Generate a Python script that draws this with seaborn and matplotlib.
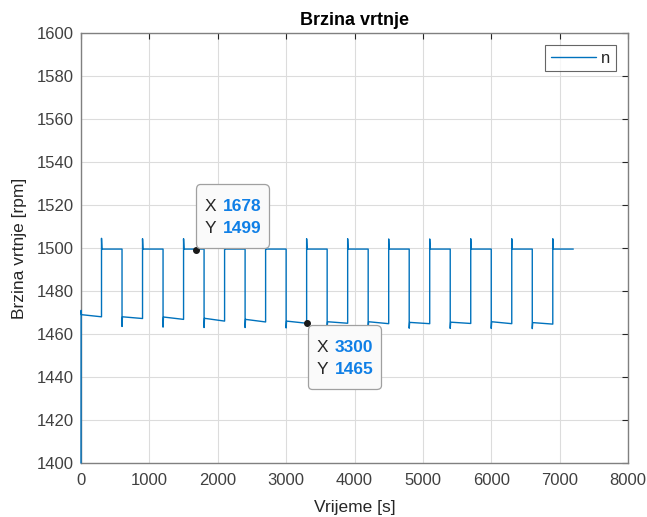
import numpy as np
import pandas as pd
import seaborn as sns
import matplotlib.pyplot as plt
from matplotlib.offsetbox import TextArea, HPacker, VPacker, AnnotationBbox, DrawingArea

# ---- data ----
start_t = [0, 2, 5]
start_n = [1400.0, 1471.0, 1469.0]
up_times = [300, 900, 1500, 2100, 2700, 3300, 3900, 4500, 5100, 5700, 6300, 6900]
down_times = [600, 1200, 1800, 2400, 3000, 3600, 4200, 4800, 5400, 6000, 6600]
low_start = [1469.0, 1468.0, 1467.9, 1467.3, 1466.8, 1466.0, 1465.7, 1465.7, 1465.4, 1465.5, 1465.7, 1465.3]
low_end = [1468.0, 1467.2, 1466.8, 1466.0, 1465.6, 1465.0, 1465.0, 1464.8, 1464.8, 1464.9, 1464.8, 1464.6]
up_peak = [1504.5, 1504.3, 1504.3, 1504.2, 1504.2, 1504.3, 1504.3, 1504.2, 1504.2, 1504.3, 1504.3, 1504.3]
down_dip = [1463.5, 1463.2, 1463.0, 1463.0, 1462.8, 1462.8, 1462.7, 1462.7, 1462.6, 1462.6, 1462.5]
high_level = 1499.5
end_time = 7200
tip1 = (1678, 1499)
tip2 = (3300, 1465)

# ---- build the polyline ----
t = list(start_t)
n = list(start_n)
for k, tu in enumerate(up_times):
    t += [tu, tu, tu + 6]
    n += [low_end[k], up_peak[k], high_level]
    if k < len(down_times):
        td = down_times[k]
        t += [td, td, td + 6]
        n += [high_level, down_dip[k], low_start[k + 1]]
t.append(end_time)
n.append(high_level)
df = pd.DataFrame({"t": t, "n": n})

sns.set_theme(style="whitegrid")
plt.rcParams['font.family'] = ['Liberation Sans', 'DejaVu Sans']

fig = plt.figure(figsize=(6.47, 5.17), dpi=100)
ax = fig.add_axes([81 / 647, 1 - 463 / 517, (628 - 81) / 647, (463 - 33) / 517])

sns.lineplot(data=df, x="t", y="n", ax=ax, color="#0072BD", linewidth=1.0,
             label="n", sort=False, estimator=None, zorder=3)
ax.lines[0].set_clip_on(False)

ax.set_xlim(0, 8000)
ax.set_ylim(1400, 1600)
ax.set_xticks(np.arange(0, 8001, 1000))
ax.set_yticks(np.arange(1400, 1601, 20))
ax.grid(True, color="#dcdcdc", linewidth=0.8)
ax.set_facecolor("white")
for s in ax.spines.values():
    s.set_color("#808080")
    s.set_linewidth(1.0)
    s.set_zorder(2.5)
ax.tick_params(axis="both", direction="in", length=4, width=0.8, color="#262626",
               labelsize=12, labelcolor="#404040", top=True, right=True, pad=5)
ax.tick_params(axis="x", pad=7)

ax.set_xlabel("Vrijeme [s]", fontsize=12.5, color="#262626", labelpad=9)
ax.set_ylabel("Brzina vrtnje [rpm]", fontsize=12.5, color="#262626", labelpad=7)
ax.set_title("Brzina vrtnje", fontsize=13, fontweight="bold", color="#000000", pad=6)

leg = ax.legend(loc="upper right", fontsize=12, frameon=True, fancybox=False,
                edgecolor="#404040", handlelength=2.7, borderaxespad=0.7,
                borderpad=0.35, handletextpad=0.3)
leg.get_frame().set_linewidth(0.8)

# ---- data tips ----
def datatip(xy, box_align, offset):
    ax.plot([xy[0]], [xy[1]], 'o', color="#1a1a1a", markersize=4, zorder=5)
    lab = dict(color="#262626", fontsize=12.5)
    num = dict(color="#0f7fe6", fontsize=12.5, fontweight="bold")
    r1 = HPacker(children=[TextArea("X", textprops=lab), TextArea(f"{xy[0]}", textprops=num)],
                 sep=5, pad=0, align="baseline")
    r2 = HPacker(children=[TextArea("Y", textprops=lab), TextArea(f"{xy[1]}", textprops=num)],
                 sep=5, pad=0, align="baseline")
    inner = VPacker(children=[r1, r2], sep=5, pad=0, align="left")
    col = VPacker(children=[DrawingArea(1, 5.8), inner, DrawingArea(1, 3.6)],
                  sep=0, pad=0, align="left")
    box = HPacker(children=[DrawingArea(1.5, 1), col], sep=0, pad=0, align="center")
    ab = AnnotationBbox(box, xy, xybox=offset, xycoords="data", boxcoords="offset points",
                        box_alignment=box_align, frameon=True, pad=0.5,
                        bboxprops=dict(boxstyle="round,pad=0.45,rounding_size=0.3",
                                       facecolor="#fafafa", edgecolor="#a0a0a0", linewidth=0.9))
    ab.zorder = 6
    ax.add_artist(ab)

datatip(tip1, (0, 0), (5, 6.5))
datatip(tip2, (0, 1), (5.6, -6.5))

fig.savefig("out.png", dpi=100, facecolor="white")
